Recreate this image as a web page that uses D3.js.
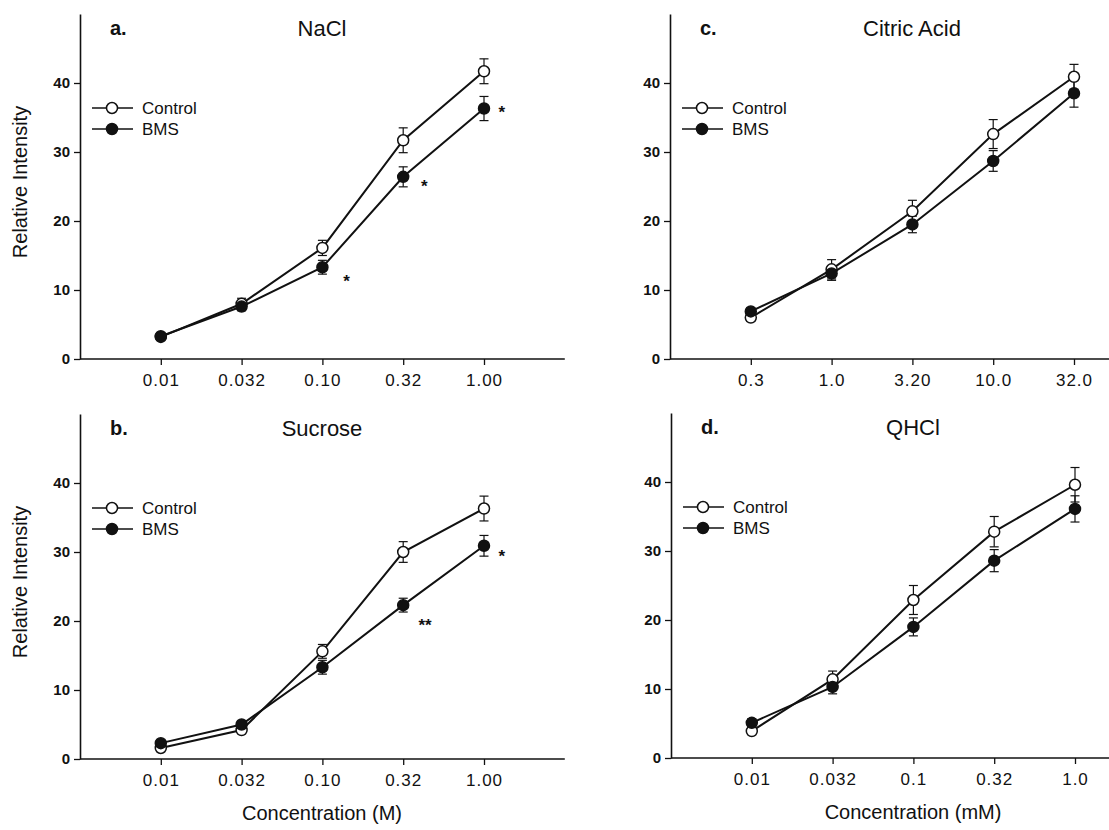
<!DOCTYPE html>
<html>
<head>
<meta charset="utf-8">
<script src="https://cdn.jsdelivr.net/npm/d3@7"></script>
<style>
  html, body { margin: 0; padding: 0; background: #fff; }
  svg { display: block; font-family: "Liberation Sans", Arial, Helvetica, sans-serif; }
</style>
</head>
<body>
<svg id="chart" width="1109" height="830"></svg>
<script>
// ---------------- DATA ----------------
const seriesNames = ["Control", "BMS"];
const yTicks = [0, 10, 20, 30, 40];

// a. NaCl (M)
const naclTicks = ["0.01", "0.032", "0.10", "0.32", "1.00"];
const naclControl = [3.2, 8.0, 16.1, 31.7, 41.7];
const naclControlErr = [0.4, 0.8, 1.1, 1.8, 1.8];
const naclBMS = [3.3, 7.6, 13.3, 26.4, 36.3];
const naclBMSErr = [0.4, 0.6, 1.0, 1.45, 1.75];
const naclStarPos = [2.3, 3.26, 4.22];
const naclStarVal = [11.9, 25.7, 36.4];
const naclStarText = ["*", "*", "*"];

// b. Sucrose (M)
const sucroseTicks = ["0.01", "0.032", "0.10", "0.32", "1.00"];
const sucroseControl = [1.6, 4.2, 15.6, 30.0, 36.3];
const sucroseControlErr = [0.3, 0.4, 1.0, 1.5, 1.8];
const sucroseBMS = [2.3, 5.0, 13.3, 22.3, 30.9];
const sucroseBMSErr = [0.4, 0.5, 1.0, 1.0, 1.5];
const sucroseStarPos = [3.27, 4.22];
const sucroseStarVal = [20.0, 30.0];
const sucroseStarText = ["**", "*"];

// c. Citric Acid (mM)
const citricTicks = ["0.3", "1.0", "3.20", "10.0", "32.0"];
const citricControl = [6.0, 13.0, 21.4, 32.6, 40.9];
const citricControlErr = [0.5, 1.4, 1.6, 2.1, 1.8];
const citricBMS = [6.9, 12.4, 19.5, 28.7, 38.5];
const citricBMSErr = [0.5, 1.0, 1.2, 1.5, 2.0];

// d. QHCl (mM)
const qhclTicks = ["0.01", "0.032", "0.1", "0.32", "1.0"];
const qhclControl = [3.9, 11.4, 22.9, 32.8, 39.6];
const qhclControlErr = [0.4, 1.2, 2.1, 2.2, 2.5];
const qhclBMS = [5.1, 10.3, 19.0, 28.6, 36.1];
const qhclBMSErr = [0.6, 1.0, 1.3, 1.6, 1.9];

// ---------------- LAYOUT ----------------
const panels = [
  { label: "a.", title: "NaCl", ticks: naclTicks, control: naclControl, controlErr: naclControlErr,
    bms: naclBMS, bmsErr: naclBMSErr, starPos: naclStarPos, starVal: naclStarVal, starText: naclStarText,
    left: 80, bottom: 359, yTitle: true, xTitle: null },
  { label: "b.", title: "Sucrose", ticks: sucroseTicks, control: sucroseControl, controlErr: sucroseControlErr,
    bms: sucroseBMS, bmsErr: sucroseBMSErr, starPos: sucroseStarPos, starVal: sucroseStarVal, starText: sucroseStarText,
    left: 80, bottom: 759, yTitle: true, xTitle: "Concentration (M)" },
  { label: "c.", title: "Citric Acid", ticks: citricTicks, control: citricControl, controlErr: citricControlErr,
    bms: citricBMS, bmsErr: citricBMSErr, starPos: [], starVal: [], starText: [],
    left: 670, bottom: 359, yTitle: false, xTitle: null },
  { label: "d.", title: "QHCl", ticks: qhclTicks, control: qhclControl, controlErr: qhclControlErr,
    bms: qhclBMS, bmsErr: qhclBMSErr, starPos: [], starVal: [], starText: [],
    left: 671, bottom: 758, yTitle: false, xTitle: "Concentration (mM)" }
];

const step = 80.8;        // px between categories
const unit = 6.9;         // px per y unit
const yMax = 50;
const R = 5.5;

const svg = d3.select("#chart");

panels.forEach(p => {
  const x = d3.scaleLinear().domain([-1, 5]).range([p.left, p.left + 6 * step]);
  const y = d3.scaleLinear().domain([0, yMax]).range([p.bottom, p.bottom - yMax * unit]);
  const g = svg.append("g");
  const xEnd = Math.min(x(5), 1109);

  // y axis
  const yAxis = d3.axisLeft(y).tickValues(yTicks).tickSize(6).tickSizeOuter(0).tickFormat(d3.format("d"));
  const ya = g.append("g").attr("transform", `translate(${p.left},0)`).call(yAxis);
  ya.select(".domain").attr("stroke", "#111").attr("stroke-width", 1.6);
  ya.selectAll(".tick line").attr("stroke", "#111").attr("stroke-width", 1.3);
  ya.selectAll(".tick text").attr("font-size", 15).attr("font-weight", "bold").attr("fill", "#111")
    .attr("font-family", "'Liberation Sans', Arial, sans-serif").attr("x", -10);

  // x axis
  const xAxis = d3.axisBottom(x).tickValues([0, 1, 2, 3, 4]).tickSize(6).tickSizeOuter(0)
    .tickFormat(i => p.ticks[i]);
  const xa = g.append("g").attr("transform", `translate(0,${p.bottom})`).call(xAxis);
  xa.select(".domain").attr("d", `M${p.left},0H${xEnd}`).attr("stroke", "#111").attr("stroke-width", 1.6);
  xa.selectAll(".tick line").attr("stroke", "#111").attr("stroke-width", 1.3);
  xa.selectAll(".tick text").attr("font-size", 17).attr("fill", "#111").attr("y", 15)
    .attr("letter-spacing", "1px")
    .attr("font-family", "'Liberation Sans', Arial, sans-serif");

  // panel label and title
  g.append("text").attr("x", p.left + 30).attr("y", p.bottom - 324)
    .attr("font-size", 20).attr("font-weight", "bold").attr("fill", "#111").text(p.label);
  g.append("text").attr("x", p.left + 242).attr("y", p.bottom - 323).attr("text-anchor", "middle")
    .attr("font-size", 22).attr("fill", "#111").text(p.title);

  if (p.yTitle) {
    g.append("text").attr("transform", `translate(27,${p.bottom - 177}) rotate(-90)`)
      .attr("text-anchor", "middle").attr("font-size", 20).attr("fill", "#111").text("Relative Intensity");
  }
  if (p.xTitle) {
    g.append("text").attr("x", p.left + 242).attr("y", p.bottom + 61).attr("text-anchor", "middle")
      .attr("font-size", 20).attr("fill", "#111").text(p.xTitle);
  }

  const series = [
    { name: seriesNames[0], vals: p.control, errs: p.controlErr, fill: "#fff" },
    { name: seriesNames[1], vals: p.bms, errs: p.bmsErr, fill: "#111" }
  ];

  const line = d3.line().x((d, i) => x(i)).y(d => y(d));

  series.forEach(s => {
    // error bars
    const eb = g.append("g").attr("stroke", "#111").attr("stroke-width", 1.2);
    s.vals.forEach((v, i) => {
      const e = s.errs[i];
      eb.append("line").attr("x1", x(i)).attr("x2", x(i)).attr("y1", y(v + e)).attr("y2", y(v - e));
      eb.append("line").attr("x1", x(i) - 4.5).attr("x2", x(i) + 4.5).attr("y1", y(v + e)).attr("y2", y(v + e));
      eb.append("line").attr("x1", x(i) - 4.5).attr("x2", x(i) + 4.5).attr("y1", y(v - e)).attr("y2", y(v - e));
    });
  });

  series.forEach(s => {
    g.append("path").datum(s.vals).attr("d", line).attr("fill", "none")
      .attr("stroke", "#111").attr("stroke-width", 2);
    g.selectAll(null).data(s.vals).enter().append("circle")
      .attr("cx", (d, i) => x(i)).attr("cy", d => y(d)).attr("r", R)
      .attr("fill", s.fill).attr("stroke", "#111").attr("stroke-width", 1.5);
  });

  // legend
  series.forEach((s, k) => {
    const ly = p.bottom - 251 + k * 21;
    g.append("line").attr("x1", p.left + 12).attr("x2", p.left + 53).attr("y1", ly).attr("y2", ly)
      .attr("stroke", "#111").attr("stroke-width", 1.5);
    g.append("circle").attr("cx", p.left + 32).attr("cy", ly).attr("r", R)
      .attr("fill", s.fill).attr("stroke", "#111").attr("stroke-width", 1.5);
    g.append("text").attr("x", p.left + 62).attr("y", ly + 6).attr("font-size", 17).attr("fill", "#111").text(s.name);
  });

  // significance stars
  p.starPos.forEach((sp, k) => {
    g.append("text").attr("x", x(sp)).attr("y", y(p.starVal[k]) + 10).attr("text-anchor", "middle")
      .attr("font-size", 17).attr("font-weight", "bold").attr("fill", "#111").text(p.starText[k]);
  });
});
</script>
</body>
</html>
